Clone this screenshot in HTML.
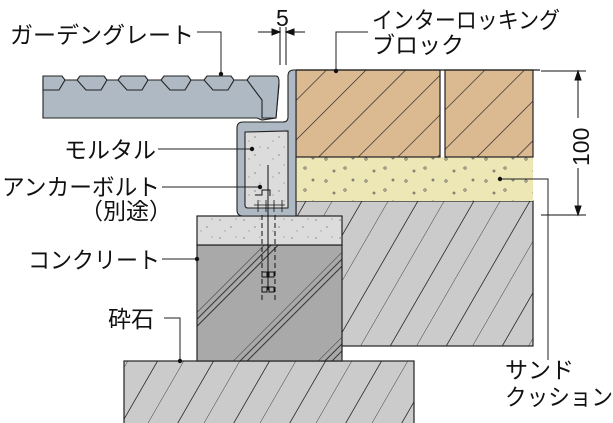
<!DOCTYPE html>
<html><head><meta charset="utf-8"><style>
html,body{margin:0;padding:0;background:#fff;}
svg{display:block}
text{font-family:"Liberation Sans","Noto Sans CJK JP",sans-serif;fill:#111;}
</style></head><body>
<svg width="613" height="423" viewBox="0 0 613 423" xmlns="http://www.w3.org/2000/svg">
<defs>
<pattern id="blk" patternUnits="userSpaceOnUse" width="28" height="28" patternTransform="rotate(45)">
<rect width="28" height="28" fill="#dbb991"/><line x1="0" y1="0" x2="0" y2="28" stroke="#222" stroke-width="1.3"/>
</pattern>
<pattern id="grv" patternUnits="userSpaceOnUse" width="56" height="145" patternTransform="skewX(-30)">
<rect width="56" height="145" fill="#cbcbcb"/><line x1="0" y1="0" x2="0" y2="145" stroke="#333" stroke-width="1"/><line x1="30" y1="0" x2="30" y2="145" stroke="#333" stroke-width="1"/>
</pattern>
<pattern id="conc" patternUnits="userSpaceOnUse" width="60" height="60" patternTransform="rotate(45)">
<rect width="60" height="60" fill="#a9a9a9"/><line x1="0" y1="0" x2="0" y2="60" stroke="#333" stroke-width="1"/><line x1="5" y1="0" x2="5" y2="60" stroke="#333" stroke-width="1"/><line x1="10" y1="0" x2="10" y2="60" stroke="#333" stroke-width="1"/>
</pattern>
<pattern id="sand" patternUnits="userSpaceOnUse" width="40" height="22">
<rect width="40" height="22" fill="#ece7b5"/><circle cx="6" cy="5" r="1.2" fill="none" stroke="#555" stroke-width=".7"/><circle cx="25" cy="14" r="1.2" fill="none" stroke="#555" stroke-width=".7"/><circle cx="33" cy="4" r="1" fill="none" stroke="#555" stroke-width=".7"/><circle cx="14" cy="17" r="1" fill="none" stroke="#555" stroke-width=".7"/>
</pattern>
<pattern id="mort" patternUnits="userSpaceOnUse" width="24" height="18">
<rect width="24" height="18" fill="#dcdcdc"/><circle cx="4" cy="4" r=".6" fill="#555"/><circle cx="15" cy="11" r=".6" fill="#555"/><circle cx="20" cy="3" r=".5" fill="#555"/><circle cx="9" cy="15" r=".5" fill="#555"/>
</pattern>
</defs>
<rect x="296" y="201" width="237" height="145" fill="url(#grv)" stroke="#222" stroke-width="1.2"/>
<rect x="124" y="361" width="290" height="70" fill="url(#grv)" stroke="#222" stroke-width="1.2"/>
<rect x="197" y="245" width="145" height="116" fill="url(#conc)" stroke="#222" stroke-width="1.2"/>
<rect x="197" y="216" width="145" height="29" fill="url(#mort)" stroke="#222" stroke-width="1.2"/>
<rect x="296" y="157" width="237" height="44" fill="url(#sand)"/>
<rect x="296" y="70" width="144" height="87" fill="url(#blk)" stroke="#222" stroke-width="1.2"/>
<rect x="445" y="70" width="88" height="87" fill="url(#blk)" stroke="#222" stroke-width="1.2"/>
<line x1="296" y1="70" x2="540" y2="70" stroke="#222" stroke-width="1.2"/>
<rect x="245" y="131" width="43" height="77" fill="url(#mort)"/>
<path d="M288,76 Q288,70 294,70 L296,70 L296,216 L243,216 Q237,216 237,210 L237,128 Q237,122 243,122 L283,122 Q288,122 288,117 Z M245,132 L245,205 Q245,208 248,208 L288,208 L288,131 Z" fill="#aeb9c3" stroke="#222" stroke-width="1.1" fill-rule="evenodd"/>
<g stroke="#111" fill="none" stroke-width="1">
<line x1="268" y1="165" x2="268" y2="290"/>
<path d="M255,195 L262,195 L262,190 L270,190 L270,196"/>
<path d="M254,205 L285,205 M258,200 L258,212 M266,200 L266,212 M274,200 L274,212 M282,200 L282,212" stroke-width=".8"/>
<path d="M262,215 L262,300 M275,215 L275,300" stroke-dasharray="5,3"/>
<rect x="262" y="272" width="5" height="5"/><rect x="269" y="272" width="5" height="5"/>
<rect x="262" y="287" width="5" height="5"/><rect x="269" y="287" width="5" height="5"/>
</g>
<!-- grating body -->
<path d="M43,80 L272,80 Q279,78 279,85 L276,118 L262,120 L257,118 L43,118 Z" fill="#aeb9c3" stroke="#222" stroke-width="1.1"/>
<g fill="#aeb9c3" stroke="#222" stroke-width="1.1">
<path d="M43,76 L62,76 L65,80 L59,90 L43,90Z"/>
<path d="M80,76 L104,76 L107,80 L101,90 L86,90 L77,80Z"/>
<path d="M121,76 L145,76 L148,80 L142,90 L127,90 L118,80Z"/>
<path d="M164,76 L188,76 L191,80 L185,90 L170,90 L161,80Z"/>
<path d="M207,76 L231,76 L234,80 L228,90 L213,90 L204,80Z"/>
<path d="M250,76 L276,76 Q279,76 279,82 L276,118 L262,118 L262,100 L256,92 L247,80Z"/>
</g>
<g stroke="#111" stroke-width="1" fill="#111">
<line x1="280" y1="27" x2="280" y2="65"/><line x1="286" y1="27" x2="286" y2="65"/>
<line x1="258" y1="32" x2="280" y2="32"/><line x1="286" y1="32" x2="305" y2="32"/>
<path d="M280,32 L272,29 L272,35Z"/><path d="M286,32 L294,29 L294,35Z"/>
</g>
<text x="276" y="26" font-size="23">5</text>
<g stroke="#111" stroke-width="1" fill="#111">
<line x1="541" y1="71" x2="586" y2="71"/><line x1="541" y1="215" x2="586" y2="215"/>
<line x1="578" y1="71" x2="578" y2="118"/><line x1="578" y1="168" x2="578" y2="215"/>
<path d="M578,71 L575,80 L581,80Z"/><path d="M578,215 L575,206 L581,206Z"/>
</g>
<text x="0" y="0" font-size="23" transform="translate(589,166) rotate(-90)">100</text>
<g stroke="#222" stroke-width="1" fill="none">
<polyline points="197,32 221,32 221,75"/>
<polyline points="368,32 336,32 336,70"/>
<line x1="158" y1="149" x2="252" y2="149"/>
<line x1="162" y1="187" x2="260" y2="187"/>
<line x1="162" y1="259" x2="197" y2="259"/>
<polyline points="164,318 180,318 180,361"/>
<polyline points="500,179 548,179 548,360"/>
</g>
<g fill="#111">
<circle cx="221" cy="74" r="2.2"/><circle cx="336" cy="71" r="2.2"/><circle cx="252" cy="149" r="2.2"/><circle cx="260" cy="187" r="2.2"/><circle cx="197" cy="259" r="2.2"/><circle cx="180" cy="361" r="2.2"/><circle cx="500" cy="179" r="2.2"/>
</g>
<text x="10" y="43" font-size="23" textLength="184" lengthAdjust="spacingAndGlyphs">ガーデングレート</text>
<text x="372" y="28" font-size="23" textLength="188" lengthAdjust="spacingAndGlyphs">インターロッキング</text>
<text x="372" y="53" font-size="23">ブロック</text>
<text x="64" y="158" font-size="23" textLength="92" lengthAdjust="spacingAndGlyphs">モルタル</text>
<text x="2" y="195" font-size="23" textLength="158" lengthAdjust="spacingAndGlyphs">アンカーボルト</text>
<text x="80" y="219" font-size="23">（別途）</text>
<text x="28" y="268" font-size="23" textLength="132" lengthAdjust="spacingAndGlyphs">コンクリート</text>
<text x="108" y="327" font-size="23">砕石</text>
<text x="505" y="378" font-size="23">サンド</text>
<text x="505" y="405" font-size="23" textLength="108" lengthAdjust="spacingAndGlyphs">クッション</text>
</svg>
</body></html>
